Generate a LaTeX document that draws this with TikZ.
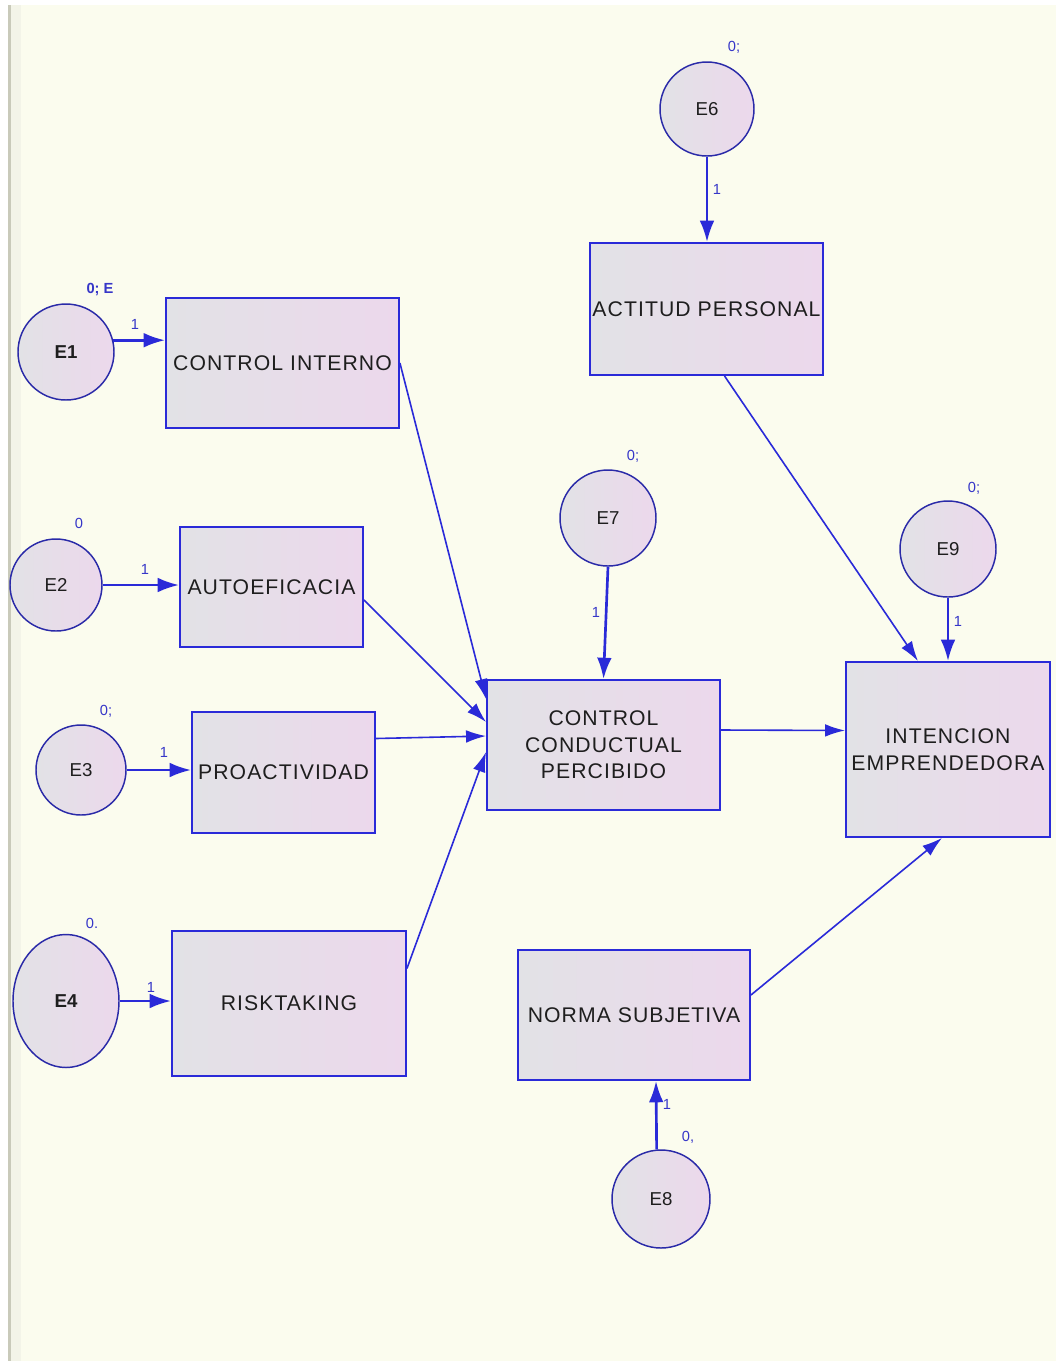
\documentclass[tikz,border=0pt]{standalone}
\usepackage{fontspec}
\setmainfont{Liberation Sans}
\newfontfamily\boxfont[LetterSpace=5]{Liberation Sans}
\usetikzlibrary{arrows.meta,calc,shapes.geometric}
\definecolor{paper}{HTML}{FBFCEE}
\definecolor{strip}{HTML}{F3F4E8}
\definecolor{rule}{HTML}{C9CABA}
\definecolor{edge}{HTML}{2A2AD8}
\definecolor{rim}{HTML}{2A2AA8}
\definecolor{fillL}{HTML}{E2E2E6}
\definecolor{fillR}{HTML}{ECD8EC}
\definecolor{lbl}{HTML}{3636C8}
\definecolor{ink}{HTML}{1E1E1E}

\begin{document}
\begin{tikzpicture}[x=0.75pt,y=-0.75pt,
  box/.style={draw=edge,line width=1.4pt,left color=fillL,right color=fillR,
    inner sep=0pt,align=center,text=ink,
    font=\boxfont\fontsize{15.9}{20}\selectfont},
  err/.style={circle,draw=rim,line width=1.1pt,left color=fillL,right color=fillR,
    inner sep=0pt,text=ink,font=\fontsize{14}{16}\selectfont},
  errarrow/.style={draw=edge,line width=2pt,-{Latex[length=16pt,width=11pt]}},
  patharrow/.style={draw=edge,line width=1.2pt,-{Latex[length=15pt,width=9.5pt]}},
  tag/.style={text=lbl,inner sep=0pt,font=\fontsize{11}{13}\selectfont},
  one/.style={text=lbl,inner sep=0pt,font=\fontsize{11}{13}\selectfont}]

% page and left margin rule
\useasboundingbox (0,0) rectangle (1056,1361);
\fill[paper] (0,0) rectangle (1056,1361);
\fill[white] (0,0) rectangle (1056,5);
\fill[white] (0,0) rectangle (8,1361);
\fill[strip] (10,5) rectangle (21,1361);
\fill[rule] (8,5) rectangle (10.5,1361);

% observed variables
\node[box,minimum width=233*0.75pt,minimum height=130*0.75pt] (ci) at (282.5,363) {CONTROL INTERNO};
\node[box,minimum width=183*0.75pt,minimum height=120*0.75pt] (auto) at (271.5,587) {AUTOEFICACIA};
\node[box,minimum width=183*0.75pt,minimum height=121*0.75pt] (proact) at (283.5,772.5) {PROACTIVIDAD};
\node[box,minimum width=234*0.75pt,minimum height=145*0.75pt] (risk) at (289,1003.5) {RISKTAKING};
\node[box,minimum width=233*0.75pt,minimum height=132*0.75pt] (act) at (706.5,309) {ACTITUD PERSONAL};
\node[box,minimum width=233*0.75pt,minimum height=130*0.75pt] (ccp) at (603.5,745) {CONTROL\\CONDUCTUAL\\PERCIBIDO};
\node[box,minimum width=204*0.75pt,minimum height=175*0.75pt] (ie) at (948,749.5) {INTENCION\\EMPRENDEDORA};
\node[box,minimum width=232*0.75pt,minimum height=130*0.75pt] (norma) at (634,1015) {NORMA SUBJETIVA};

% error terms
\node[err,minimum size=96*0.75pt,font=\bfseries\fontsize{14}{16}\selectfont] (e1) at (66,352) {E1};
\node[err,minimum size=92*0.75pt] (e2) at (56,585) {E2};
\node[err,minimum size=90*0.75pt] (e3) at (81,770) {E3};
\node[err,ellipse,minimum width=106*0.75pt,minimum height=133*0.75pt,font=\bfseries\fontsize{14}{16}\selectfont] (e4) at (66,1001) {E4};
\node[err,minimum size=94*0.75pt] (e6) at (707,109) {E6};
\node[err,minimum size=96*0.75pt] (e7) at (608,518) {E7};
\node[err,minimum size=98*0.75pt] (e8) at (661,1199) {E8};
\node[err,minimum size=96*0.75pt] (e9) at (948,549) {E9};

% variance labels
\node[tag,font=\bfseries\fontsize{11}{13}\selectfont] (t1) at (100,290) {0; E};
\node[tag] (t2) at (79,523) {0};
\node[tag] (t3) at (106,711) {0;};
\node[tag] (t4) at (92,923) {0.};
\node[tag] (t6) at (734,47) {0;};
\node[tag] (t7) at (633,456) {0;};
\node[tag] (t9) at (974,488) {0;};
\node[tag] (t8) at (688,1137) {0,};

% error paths
\draw[errarrow] (e1.14) -- (e1.14 -| ci.west);
\draw[errarrow] (e2.east) -- (e2.east -| auto.west);
\draw[errarrow] (e3.east) -- (e3.east -| proact.west);
\draw[errarrow] (e4.east) -- (e4.east -| risk.west);
\draw[errarrow] (e6.south) -- (e6.south |- act.north);
\draw[errarrow] (e7.south) -- (ccp.north);
\draw[errarrow] (e9.south) -- (e9.south |- ie.north);
\draw[errarrow] (e8.95) -- ($(norma.south)+(22,0)$);

% regression weights fixed to one
\node[one] (w1) at (135,324) {1};
\node[one] (w2) at (145,569) {1};
\node[one] (w3) at (164,752) {1};
\node[one] (w4) at (151,987) {1};
\node[one] (w6) at (717,189) {1};
\node[one] (w7) at (596,612) {1};
\node[one] (w9) at (958,621) {1};
\node[one] (w8) at (667,1104) {1};

% structural paths
\draw[patharrow] (ci.east) -- ($(ccp.north west)+(0,20)$);
\draw[patharrow] ($(auto.east)+(0,13)$) -- ($(ccp.west)+(0,-23)$);
\draw[patharrow] ($(proact.east)+(0,-34)$) -- ($(ccp.west)+(0,-9)$);
\draw[patharrow] ($(risk.east)+(0,-35)$) -- ($(ccp.west)+(0,7)$);
\draw[patharrow] ($(ccp.east)+(0,-15)$) -- ($(ie.west)+(0,-19)$);
\draw[patharrow] ($(act.south)+(18,0)$) -- ($(ie.north)+(-30,0)$);
\draw[patharrow] ($(norma.east)+(0,-20)$) -- ($(ie.south)+(-6,0)$);
\end{tikzpicture}
\end{document}
